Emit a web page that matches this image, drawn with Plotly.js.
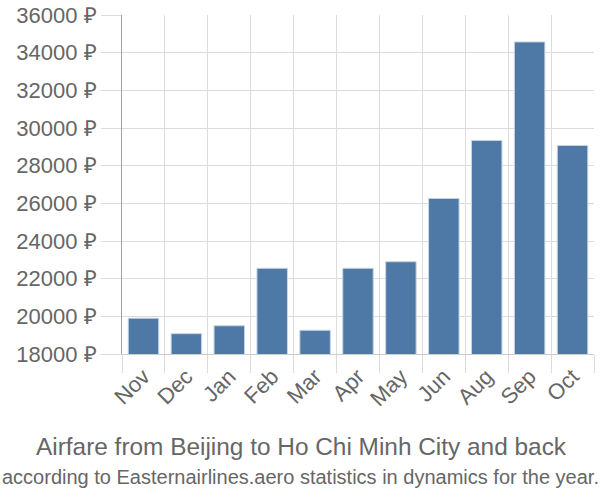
<!DOCTYPE html>
<html>
<head>
<meta charset="utf-8">
<script src="https://cdn.plot.ly/plotly-3.0.1.min.js"></script>
<style>html,body{margin:0;padding:0;background:#fff}#chart{width:600px;height:500px}</style>
</head>
<body>
<div id="chart"></div>
<script>
const months = ["Nov","Dec","Jan","Feb","Mar","Apr","May","Jun","Aug","Sep","Oct"];
const prices = [19900, 19080, 19500, 22550, 19260, 22550, 22900, 26260, 29340, 34570, 29070];
const yTicks = [18000, 20000, 22000, 24000, 26000, 28000, 30000, 32000, 34000, 36000];
const titleText = "Airfare from Beijing to Ho Chi Minh City and back";
const subtitleText = "according to Easternairlines.aero statistics in dynamics for the year.";

const font = "Liberation Sans, Arial, sans-serif";
const trace = {
  type: "bar",
  x: months,
  y: prices,
  base: 0,
  marker: {color: "#4e79a7", line: {color: "#c7d3e3", width: 1}},
  hoverinfo: "x+y"
};
const layout = {
  width: 600, height: 500,
  margin: {l: 122, r: 6, t: 15, b: 146},
  paper_bgcolor: "#fff", plot_bgcolor: "#fff",
  bargap: 0.29,
  showlegend: false,
  font: {family: font, color: "#666", size: 22},
  xaxis: {
    type: "category",
    tickson: "boundaries",
    showgrid: true, gridcolor: "#dcdcdc", gridwidth: 1,
    ticks: "outside", ticklen: 18, tickcolor: "#dcdcdc",
    tickangle: -45,
    showline: true, linecolor: "#ccc", linewidth: 1,
    tickfont: {size: 22, color: "#666", family: font}
  },
  yaxis: {
    range: [18000, 36000],
    tickvals: yTicks,
    ticktext: yTicks.map(v => v + " ₽"),
    showgrid: true, gridcolor: "#dcdcdc", gridwidth: 1,
    ticks: "outside", ticklen: 20, tickcolor: "#dcdcdc",
    showline: true, linecolor: "#a0a0a0", linewidth: 1,
    zeroline: false,
    tickfont: {size: 22, color: "#666", family: font}
  },
  annotations: [
    {text: titleText, xref: "paper", yref: "paper", x: 0.5, xanchor: "center",
     y: 0, yanchor: "middle", yshift: -92, showarrow: false,
     font: {size: 24.4, color: "#666", family: font}, xshift: -57},
    {text: subtitleText, xref: "paper", yref: "paper", x: 0.5, xanchor: "center",
     y: 0, yanchor: "middle", yshift: -123, showarrow: false,
     font: {size: 20, color: "#666", family: font}, xshift: -58}
  ]
};
Plotly.newPlot("chart", [trace], layout, {displayModeBar: false, staticPlot: true});
</script>
</body>
</html>
